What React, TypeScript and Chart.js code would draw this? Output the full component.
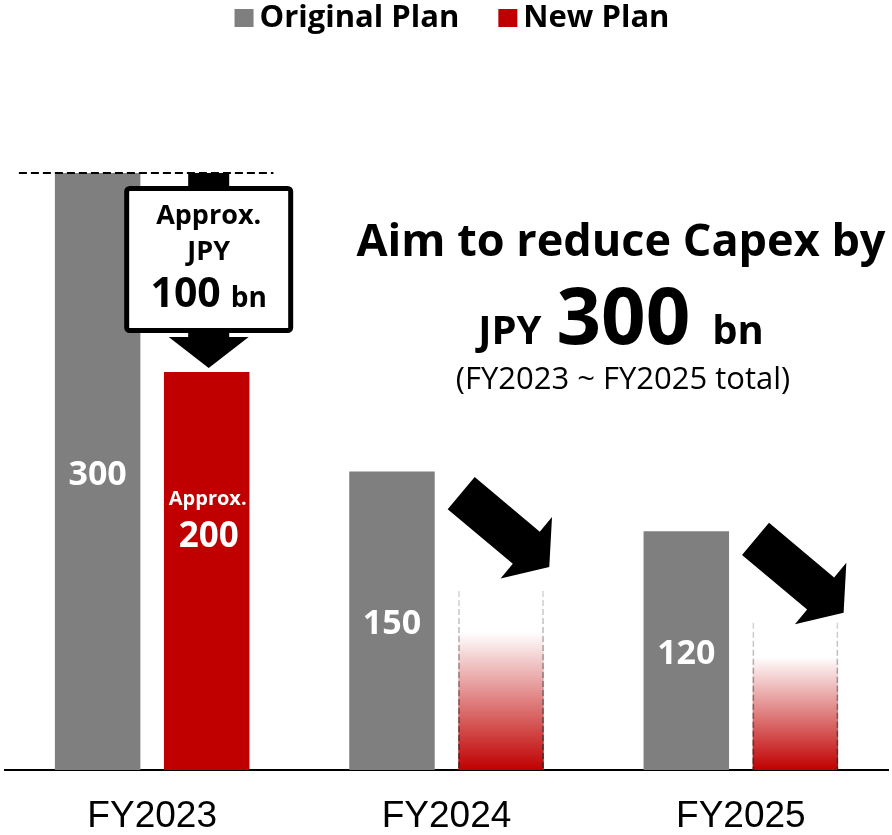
import React, { useEffect, useRef } from "react";
import { Chart, registerables } from "chart.js";

Chart.register(...registerables);

// ---- data ----
const categories = ["FY2023", "FY2024", "FY2025"];
const seriesLabels = ["Original Plan", "New Plan"];
const originalPlan = [300, 150, 120];
const newPlan = [200, 90, 74];
const originalLabels = ["300", "150", "120"];
const newPlanFirstLabel = ["Approx.", "200"];
const reductionBoxText = ["Approx.", "JPY", "100", "bn"];
const arrowTipValues = [0, 102, 79];
const headlineText = ["Aim to reduce Capex by", "JPY", "300", "bn", "(FY2023 ~ FY2025 total)"];

const GREY = "#7F7F7F";
const RED = "#C00000";
const FONT = "'Open Sans', 'Noto Sans', sans-serif";
const NARROW = "'Liberation Sans Narrow', 'Liberation Sans', Arial, sans-serif";

function font(size: number, weight = 700) {
  return `${weight} ${size}px ${FONT}`;
}

const annotationPlugin = {
  id: "annotations",
  afterDatasetsDraw(chart: any) {
    const ctx: CanvasRenderingContext2D = chart.ctx;
    const m0 = chart.getDatasetMeta(0);
    const m1 = chart.getDatasetMeta(1);
    const ys = chart.scales.y;

    // dashed side edges for projected bars
    for (let i = 1; i < m1.data.length; i++) {
      const el: any = m1.data[i];
      const l = el.x - el.width / 2;
      const r = el.x + el.width / 2;
      ctx.save();
      ctx.setLineDash([6, 3]);
      ctx.lineWidth = 1.5;
      const g = ctx.createLinearGradient(0, el.y, 0, el.base);
      g.addColorStop(0, "rgba(120,120,120,0.3)");
      g.addColorStop(1, "rgba(40,40,40,0.95)");
      ctx.strokeStyle = g;
      ctx.beginPath();
      ctx.moveTo(l + 0.75, el.y);
      ctx.lineTo(l + 0.75, el.base);
      ctx.moveTo(r - 0.75, el.y);
      ctx.lineTo(r - 0.75, el.base);
      ctx.stroke();
      ctx.restore();
    }

    // labels inside bars
    ctx.save();
    ctx.fillStyle = "#fff";
    ctx.textAlign = "center";
    ctx.textBaseline = "alphabetic";
    m0.data.forEach((el: any, i: number) => {
      const mid = (el.y + el.base) / 2;
      ctx.font = font(34);
      ctx.fillText(originalLabels[i], el.x, mid + 13);
    });
    {
      const el: any = m1.data[0];
      const mid = (el.y + el.base) / 2;
      ctx.font = font(20);
      ctx.fillText(newPlanFirstLabel[0], el.x + 1, mid - 66.5);
      ctx.font = font(35);
      ctx.fillText(newPlanFirstLabel[1], el.x + 2, mid - 24.5);
    }
    ctx.restore();

    // FY2023 reduction callout
    const g0: any = m0.data[0];
    const r0: any = m1.data[0];
    const topG = g0.y;
    const topR = r0.y;
    const cx = r0.x + 2;
    ctx.save();
    ctx.strokeStyle = "#000";
    ctx.lineWidth = 2;
    ctx.setLineDash([8, 4]);
    ctx.beginPath();
    ctx.moveTo(g0.x - g0.width / 2 - 36, topG);
    ctx.lineTo(r0.x + r0.width / 2 + 24, topG);
    ctx.stroke();
    ctx.setLineDash([]);
    ctx.fillStyle = "#000";
    ctx.fillRect(cx - 20.5, topG, 41, topR - 35 - topG);
    ctx.beginPath();
    ctx.moveTo(cx - 40, topR - 35);
    ctx.lineTo(cx + 40, topR - 35);
    ctx.lineTo(cx, topR - 4);
    ctx.closePath();
    ctx.fill();
    const bx = cx - 84.5, bw = 169;
    const by = topG + 13, bh = topR - 39 - by;
    ctx.fillStyle = "#fff";
    ctx.strokeStyle = "#000";
    ctx.lineWidth = 5;
    ctx.beginPath();
    (ctx as any).roundRect(bx + 2.5, by + 2.5, bw - 5, bh - 5, 3);
    ctx.fill();
    ctx.stroke();
    ctx.fillStyle = "#000";
    ctx.textAlign = "center";
    ctx.font = font(27);
    ctx.fillText(reductionBoxText[0], cx, by + 38);
    ctx.fillText(reductionBoxText[1], cx, by + 74);
    ctx.font = font(41);
    const w100 = ctx.measureText(reductionBoxText[2]).width;
    ctx.font = font(28);
    const wbn = ctx.measureText(reductionBoxText[3]).width;
    const gap = 10;
    const startX = cx - (w100 + gap + wbn) / 2;
    ctx.textAlign = "left";
    ctx.font = font(41);
    ctx.fillText(reductionBoxText[2], startX, by + 121);
    ctx.font = font(28);
    ctx.fillText(reductionBoxText[3], startX + w100 + gap, by + 121);
    ctx.restore();

    // diagonal arrows for FY2024 / FY2025
    const ang = (40 * Math.PI) / 180;
    const dx = Math.cos(ang), dy = Math.sin(ang);
    const px = -dy, py = dx;
    for (let i = 1; i < m1.data.length; i++) {
      const el: any = m1.data[i];
      const tx = el.x + el.width / 2 + 5.5;
      const ty = ys.getPixelForValue(arrowTipValues[i]);
      const pt = (a: number, p: number) => [tx + dx * a + px * p, ty + dy * a + py * p];
      const pts = [
        pt(0, 0),
        pt(-30, 40),
        pt(-30, 21),
        pt(-115, 21),
        pt(-115, -21),
        pt(-30, -21),
        pt(-30, -40),
      ];
      ctx.save();
      ctx.fillStyle = "#000";
      ctx.beginPath();
      pts.forEach(([x, y], k) => (k ? ctx.lineTo(x, y) : ctx.moveTo(x, y)));
      ctx.closePath();
      ctx.fill();
      ctx.restore();
    }
  },
  afterDraw(chart: any) {
    const ctx: CanvasRenderingContext2D = chart.ctx;
    ctx.save();
    // legend
    const ds = chart.data.datasets;
    ctx.font = font(31);
    ctx.textBaseline = "alphabetic";
    const widths = ds.map((d: any) => 19 + 6 + ctx.measureText(d.label).width);
    const itemGap = 39;
    let x = 452 - (widths[0] + itemGap + widths[1]) / 2;
    ds.forEach((d: any, i: number) => {
      ctx.fillStyle = d.legendColor;
      ctx.fillRect(x, 9, 19, 18);
      ctx.fillStyle = "#000";
      ctx.textAlign = "left";
      ctx.fillText(d.label, x + 25, 27);
      x += widths[i] + itemGap;
    });

    // headline
    ctx.fillStyle = "#000";
    ctx.textAlign = "center";
    ctx.font = font(45);
    ctx.fillText(headlineText[0], 621, 256);
    ctx.font = font(40);
    const wJ = ctx.measureText(headlineText[1]).width;
    const wB = ctx.measureText(headlineText[3]).width;
    ctx.font = font(78);
    const w3 = ctx.measureText(headlineText[2]).width;
    const total = wJ + 15 + w3 + 22 + wB;
    const sx = 621 - total / 2;
    ctx.textAlign = "left";
    ctx.font = font(40);
    ctx.fillText(headlineText[1], sx, 344);
    ctx.font = font(78);
    ctx.fillText(headlineText[2], sx + wJ + 15, 344);
    ctx.font = font(40);
    ctx.fillText(headlineText[3], sx + wJ + 15 + w3 + 22, 344);
    ctx.textAlign = "center";
    ctx.font = font(31, 400);
    ctx.fillText(headlineText[4], 623, 389);
    ctx.restore();
  },
};

export default function App() {
  const ref = useRef<HTMLCanvasElement | null>(null);
  useEffect(() => {
    document.body.style.margin = "0";
    document.body.style.background = "#fff";
    if (!ref.current) return;
    const chart = new Chart(ref.current, {
      type: "bar",
      data: {
        labels: categories,
        datasets: [
          {
            label: seriesLabels[0],
            data: originalPlan,
            backgroundColor: GREY,
            legendColor: GREY,
          } as any,
          {
            label: seriesLabels[1],
            data: newPlan,
            legendColor: RED,
            backgroundColor: (c: any) => {
              if (c.dataIndex === 0) return RED;
              const ch = c.chart;
              if (!ch.chartArea || !ch.scales.y) return RED;
              const ys = ch.scales.y;
              const top = ys.getPixelForValue(c.raw);
              const base = ys.getPixelForValue(0);
              const g = ch.ctx.createLinearGradient(0, top, 0, base);
              g.addColorStop(0, "rgba(192,0,0,0)");
              g.addColorStop(0.23, "rgba(192,0,0,0)");
              g.addColorStop(1, "rgba(192,0,0,1)");
              return g;
            },
          } as any,
        ],
      },
      options: {
        responsive: false,
        animation: false,
        layout: { padding: { top: 73.5, left: 5, right: 4, bottom: 0 } },
        datasets: { bar: { categoryPercentage: 0.741, barPercentage: 0.784 } } as any,
        plugins: { legend: { display: false }, tooltip: { enabled: false } },
        scales: {
          x: {
            grid: { display: false, drawTicks: false },
            border: { display: true, color: "#000", width: 2 },
            ticks: {
              font: { family: NARROW, size: 37 },
              color: "#000",
              padding: 25,
            },
            afterFit: (s: any) => {
              s.height = 65;
            },
          },
          y: { display: false, min: 0, max: 350 },
        },
      },
      plugins: [annotationPlugin],
    });
    return () => chart.destroy();
  }, []);
  return (
    <div style={{ width: 892, height: 835 }}>
      <canvas ref={ref} width={892} height={835} style={{ display: "block" }} />
    </div>
  );
}
